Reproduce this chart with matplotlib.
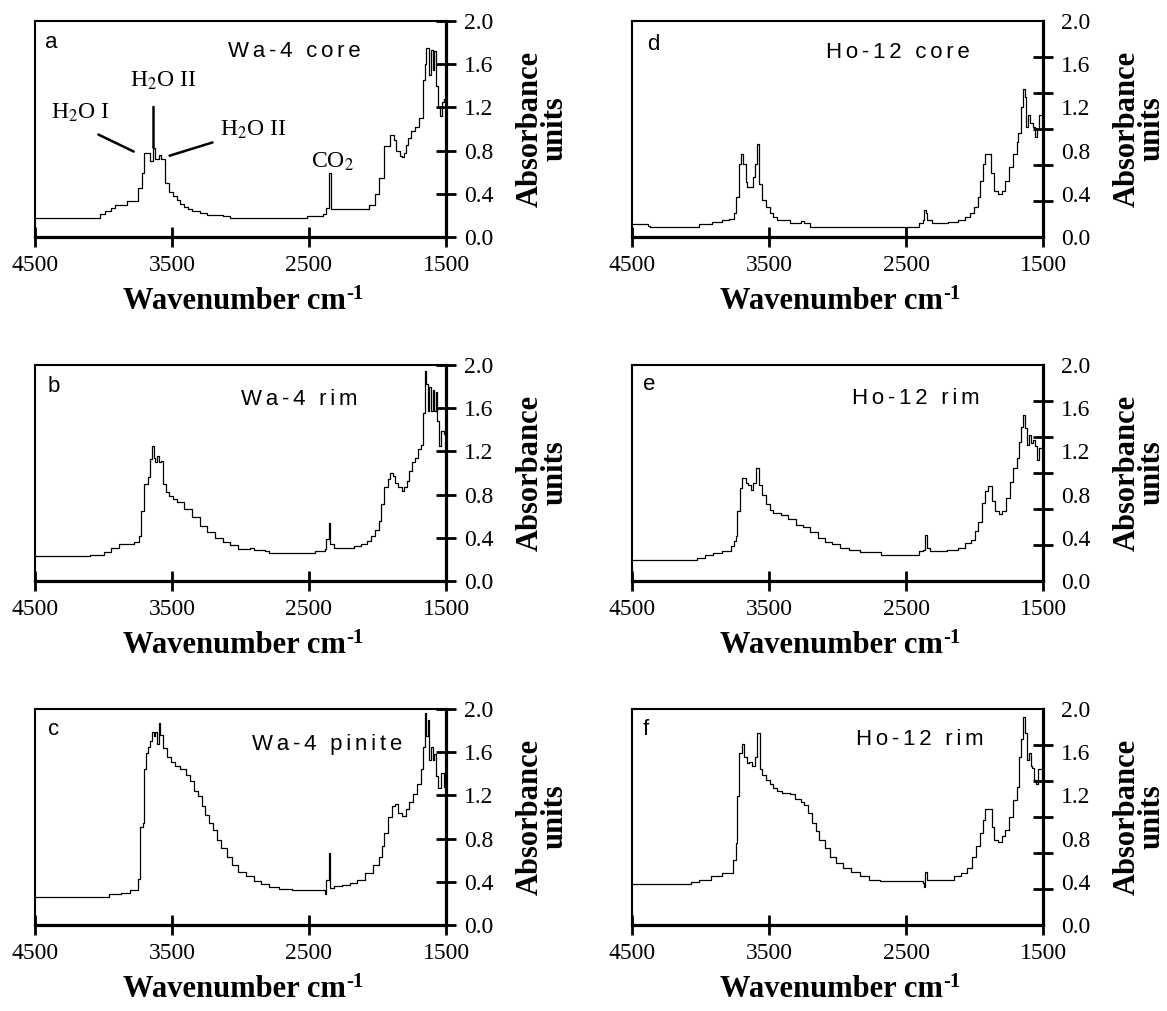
import matplotlib
matplotlib.use("Agg")
import matplotlib.pyplot as plt

plt.rcParams["mathtext.fontset"] = "stix"
SERIF = ["Liberation Serif", "DejaVu Serif"]
SANS = ["Liberation Sans", "DejaVu Sans"]
plt.rcParams["font.family"] = SERIF

# ---- spectra: wavenumber (cm-1) and absorbance, step values ----
wa4_core_wn = [4500, 4022, 3986, 3944, 3916, 3831, 3747, 3719, 3705, 3691, 3663, 3640, 3621,
               3593, 3579, 3551, 3522, 3494, 3466, 3438, 3410, 3382, 3354, 3298, 3242, 3129,
               3073, 2511, 2399, 2376, 2357, 2343, 2062, 2020, 1992, 1950, 1907, 1879, 1865,
               1837, 1823, 1809, 1795, 1781, 1753, 1725, 1697, 1669, 1655, 1646, 1626, 1612,
               1598, 1584, 1570, 1556, 1542, 1528, 1514, 1500]
wa4_core_abs = [0.175, 0.21, 0.24, 0.27, 0.30, 0.33, 0.45, 0.59, 0.78, 0.78, 0.70, 0.82, 0.72,
                0.76, 0.72, 0.50, 0.42, 0.38, 0.34, 0.31, 0.28, 0.26, 0.24, 0.22, 0.20, 0.19,
                0.175, 0.19, 0.21, 0.27, 0.59, 0.26, 0.30, 0.40, 0.55, 0.84, 0.94, 0.90, 0.80,
                0.75, 0.74, 0.78, 0.85, 0.92, 0.98, 1.02, 1.10, 1.45, 1.60, 1.75, 1.50, 1.73,
                1.55, 1.72, 1.40, 1.20, 1.12, 1.25, 1.28, 1.28]

wa4_rim_wn = [4500, 4098, 4000, 3944, 3888, 3775, 3742, 3725, 3705, 3677, 3663, 3643, 3635,
              3621, 3607, 3593, 3579, 3565, 3545, 3522, 3494, 3466, 3410, 3354, 3298, 3242,
              3185, 3129, 3073, 3017, 2933, 2904, 2820, 2792, 2455, 2385, 2376, 2357, 2348,
              2315, 2230, 2174, 2118, 2076, 2048, 2020, 1992, 1972, 1950, 1927, 1907, 1888,
              1871, 1851, 1823, 1809, 1787, 1767, 1747, 1725, 1702, 1683, 1669, 1655, 1646,
              1635, 1626, 1612, 1598, 1584, 1576, 1565, 1551, 1534, 1514, 1500]
wa4_rim_abs = [0.227, 0.245, 0.267, 0.31, 0.34, 0.36, 0.42, 0.65, 0.90, 0.96, 1.13, 1.25, 1.14,
               1.10, 1.16, 1.10, 1.11, 0.90, 0.82, 0.79, 0.76, 0.73, 0.67, 0.59, 0.51, 0.45,
               0.40, 0.36, 0.33, 0.30, 0.31, 0.29, 0.276, 0.258, 0.28, 0.30, 0.39, 0.54, 0.34,
               0.31, 0.31, 0.32, 0.34, 0.37, 0.42, 0.47, 0.56, 0.71, 0.87, 0.94, 1.00, 0.97,
               0.91, 0.87, 0.83, 0.87, 0.93, 1.02, 1.10, 1.14, 1.22, 1.26, 1.56, 1.94, 1.82,
               1.57, 1.80, 1.57, 1.77, 1.57, 1.75, 1.48, 1.25, 1.39, 1.36, 1.36]

wa4_pinite_wn = [4500, 3958, 3874, 3803, 3747, 3733, 3713, 3705, 3691, 3677, 3663, 3649, 3635,
                 3621, 3607, 3598, 3584, 3565, 3537, 3508, 3480, 3438, 3396, 3368, 3340, 3312,
                 3284, 3256, 3228, 3199, 3171, 3143, 3101, 3059, 3017, 2961, 2905, 2848, 2792,
                 2722, 2624, 2385, 2376, 2357, 2348, 2315, 2258, 2202, 2146, 2090, 2034, 1992,
                 1964, 1950, 1921, 1893, 1871, 1851, 1823, 1795, 1767, 1739, 1711, 1683, 1669,
                 1655, 1646, 1635, 1626, 1612, 1598, 1584, 1570, 1556, 1534, 1514, 1500]
wa4_pinite_abs = [0.263, 0.284, 0.30, 0.32, 0.43, 0.91, 0.94, 1.44, 1.59, 1.65, 1.70, 1.79, 1.75,
                  1.79, 1.68, 1.87, 1.76, 1.64, 1.56, 1.51, 1.47, 1.44, 1.39, 1.33, 1.24, 1.19,
                  1.10, 1.02, 0.94, 0.88, 0.79, 0.71, 0.63, 0.56, 0.49, 0.45, 0.41, 0.38, 0.35,
                  0.33, 0.325, 0.29, 0.42, 0.67, 0.34, 0.36, 0.37, 0.39, 0.42, 0.48, 0.56, 0.63,
                  0.73, 0.85, 1.00, 1.10, 1.12, 1.04, 1.01, 1.07, 1.14, 1.21, 1.31, 1.44, 1.65,
                  1.96, 1.75, 1.90, 1.53, 1.65, 1.53, 1.58, 1.38, 1.27, 1.41, 1.28, 1.28]

ho12_core_wn = [4500, 4384, 4371, 4008, 3913, 3846, 3792, 3757, 3738, 3717, 3703, 3690, 3671,
                3658, 3617, 3604, 3590, 3572, 3550, 3523, 3496, 3469, 3442, 3415, 3348, 3268,
                3241, 3200, 2406, 2379, 2366, 2353, 2344, 2312, 2191, 2124, 2070, 2030, 2003,
                1976, 1957, 1936, 1922, 1882, 1855, 1828, 1801, 1774, 1747, 1720, 1693, 1680,
                1661, 1645, 1634, 1621, 1607, 1594, 1572, 1559, 1545, 1532, 1500]
ho12_core_abs = [0.117, 0.10, 0.093, 0.117, 0.14, 0.155, 0.17, 0.22, 0.37, 0.68, 0.77, 0.68, 0.51,
                 0.46, 0.56, 0.68, 0.86, 0.49, 0.34, 0.28, 0.22, 0.185, 0.16, 0.155, 0.13, 0.148,
                 0.13, 0.093, 0.13, 0.155, 0.25, 0.22, 0.155, 0.13, 0.14, 0.155, 0.185, 0.22, 0.28,
                 0.37, 0.52, 0.68, 0.77, 0.59, 0.43, 0.40, 0.43, 0.52, 0.65, 0.77, 0.88, 0.96,
                 1.20, 1.37, 1.30, 1.02, 1.13, 1.06, 1.02, 0.93, 1.00, 1.13, 1.13]

ho12_rim_wn = [4500, 4028, 3966, 3912, 3845, 3778, 3759, 3743, 3732, 3710, 3697, 3670, 3651,
               3630, 3616, 3597, 3570, 3549, 3522, 3495, 3468, 3414, 3360, 3306, 3252, 3198,
               3144, 3091, 3037, 2983, 2915, 2834, 2686, 2403, 2376, 2363, 2347, 2322, 2201,
               2120, 2066, 2026, 1999, 1972, 1945, 1926, 1905, 1870, 1851, 1824, 1797, 1770,
               1743, 1716, 1689, 1675, 1657, 1643, 1630, 1614, 1600, 1587, 1573, 1560, 1546,
               1527, 1500]
ho12_rim_abs = [0.19, 0.215, 0.24, 0.26, 0.28, 0.32, 0.37, 0.415, 0.65, 0.86, 0.95, 0.91, 0.89,
                0.84, 0.91, 1.05, 0.89, 0.80, 0.71, 0.66, 0.63, 0.61, 0.57, 0.52, 0.50, 0.45,
                0.40, 0.36, 0.34, 0.31, 0.29, 0.27, 0.24, 0.28, 0.29, 0.43, 0.31, 0.28, 0.29,
                0.31, 0.35, 0.38, 0.46, 0.55, 0.72, 0.83, 0.88, 0.74, 0.65, 0.62, 0.65, 0.77,
                0.92, 1.05, 1.14, 1.29, 1.43, 1.54, 1.42, 1.26, 1.35, 1.28, 1.31, 1.25, 1.12,
                1.23, 1.22]

ho12_rim2_wn = [4500, 4067, 4008, 3927, 3846, 3765, 3744, 3730, 3717, 3698, 3685, 3663, 3644,
                3625, 3604, 3590, 3569, 3550, 3523, 3496, 3469, 3442, 3402, 3348, 3308, 3268,
                3241, 3214, 3187, 3160, 3133, 3093, 3052, 3012, 2958, 2904, 2837, 2770, 2689,
                2379, 2371, 2361, 2344, 2151, 2097, 2057, 2016, 1989, 1962, 1941, 1922, 1874,
                1855, 1828, 1801, 1774, 1747, 1720, 1693, 1672, 1658, 1645, 1631, 1618, 1604,
                1591, 1578, 1564, 1551, 1537, 1500]
ho12_rim2_abs = [0.377, 0.40, 0.42, 0.45, 0.485, 0.60, 0.76, 1.19, 1.59, 1.68, 1.56, 1.50, 1.51,
                 1.47, 1.56, 1.78, 1.44, 1.39, 1.34, 1.31, 1.27, 1.24, 1.22, 1.21, 1.17, 1.14,
                 1.11, 1.04, 0.94, 0.87, 0.79, 0.71, 0.63, 0.57, 0.53, 0.49, 0.45, 0.42, 0.41,
                 0.39, 0.355, 0.49, 0.42, 0.45, 0.48, 0.53, 0.63, 0.73, 0.85, 0.97, 1.07, 0.91,
                 0.79, 0.77, 0.82, 0.88, 1.00, 1.16, 1.28, 1.56, 1.72, 1.93, 1.78, 1.53, 1.59,
                 1.47, 1.45, 1.34, 1.31, 1.44, 1.44]

letters = ["a", "b", "c", "d", "e", "f"]
titles = ["Wa-4 core", "Wa-4 rim", "Wa-4 pinite", "Ho-12 core", "Ho-12 rim", "Ho-12 rim"]
x_ticks = [4500, 3500, 2500, 1500]
y_label_ticks = [0.0, 0.4, 0.8, 1.2, 1.6, 2.0]

spectra = [(wa4_core_wn, wa4_core_abs), (wa4_rim_wn, wa4_rim_abs),
           (wa4_pinite_wn, wa4_pinite_abs), (ho12_core_wn, ho12_core_abs),
           (ho12_rim_wn, ho12_rim_abs), (ho12_rim2_wn, ho12_rim2_abs)]
title_pos = [(0.63, 0.857), (0.644, 0.84), (0.71, 0.835),
             (0.648, 0.856), (0.69, 0.846), (0.70, 0.858)]
letter_pos = [(0.04, 0.90), (0.045, 0.90), (0.045, 0.905),
              (0.052, 0.89), (0.043, 0.91), (0.034, 0.905)]


def spaced(s):
    # widen the tracking of the sample names
    return "\u2006".join(s)


W, H = 1167, 1011
col_left = [35 / W, 632 / W]
row_bottom = [1 - 237 / H, 1 - 581 / H, 1 - 925 / H]
ax_w, ax_h = 411 / W, 216 / H

fig = plt.figure(figsize=(W / 100, H / 100), dpi=100)
axes = []
for i, (wn, ab) in enumerate(spectra):
    col, row = divmod(i, 3)
    ax = fig.add_axes([col_left[col], row_bottom[row], ax_w, ax_h])
    axes.append(ax)
    ax.step(wn, ab, where="post", color="black", lw=0.9)
    ax.set_xlim(4500, 1500)
    ax.set_ylim(0, 2.0)

    ax.set_xticks(x_ticks)
    ax.set_xticklabels([str(t) for t in x_ticks])
    ax.tick_params(axis="x", direction="inout", length=14, width=2, pad=6, labelsize=17)

    ax.yaxis.tick_right()
    ax.set_yticks(y_label_ticks)
    ax.set_yticklabels([f"{t:.1f}" for t in y_label_ticks])
    if col == 0:
        ax.tick_params(axis="y", which="major", direction="inout", length=14, width=2,
                       pad=6, labelsize=17)
    else:
        ax.tick_params(axis="y", which="major", length=0, pad=13, labelsize=17)
        ax.set_yticks([k / 3 for k in range(7)], minor=True)
        ax.tick_params(axis="y", which="minor", direction="inout", length=14, width=2)

    for side, lw in (("left", 1.5), ("top", 1.5), ("right", 2.3), ("bottom", 2.3)):
        ax.spines[side].set_linewidth(lw)

    xl = ax.text(0.485, -0.30, "Wavenumber cm", transform=ax.transAxes,
                 ha="center", va="center", fontsize=22, fontweight="bold")
    ax.annotate("-1", xy=(1, 1), xycoords=xl, xytext=(0.5, -5), textcoords="offset points",
                ha="left", va="center", fontsize=15, fontweight="bold")
    ax.text(1.235, 0.5, "Absorbance\nunits", transform=ax.transAxes, rotation=90,
            ha="center", va="center", multialignment="center", fontsize=22,
            fontweight="bold", linespacing=0.8)

    lx, ly = letter_pos[i]
    ax.text(lx, ly, letters[i], transform=ax.transAxes, ha="center", va="center",
            fontsize=16, family=SANS)
    tx, ty = title_pos[i]
    ax.text(tx, ty, spaced(titles[i]), transform=ax.transAxes, ha="center", va="center",
            fontsize=16, family=SANS)

# peak labels on the Wa-4 core spectrum
ax = axes[0]
ax.text(4169, 1.145, r"H$_2$O I", ha="center", va="center", fontsize=17)
ax.annotate("", xy=(3761, 0.78), xytext=(4056, 0.96),
            arrowprops=dict(arrowstyle="-", lw=1.8, color="black"))
ax.text(3565, 1.45, r"H$_2$O II", ha="center", va="center", fontsize=17)
ax.annotate("", xy=(3635, 0.80), xytext=(3635, 1.23),
            arrowprops=dict(arrowstyle="-", lw=1.8, color="black"))
ax.text(2904, 0.99, r"H$_2$O II", ha="center", va="center", fontsize=17)
ax.annotate("", xy=(3537, 0.745), xytext=(3185, 0.883),
            arrowprops=dict(arrowstyle="-", lw=1.8, color="black"))
ax.text(2330, 0.70, r"CO$_2$", ha="center", va="center", fontsize=17)

fig.savefig("out.png", dpi=100)
